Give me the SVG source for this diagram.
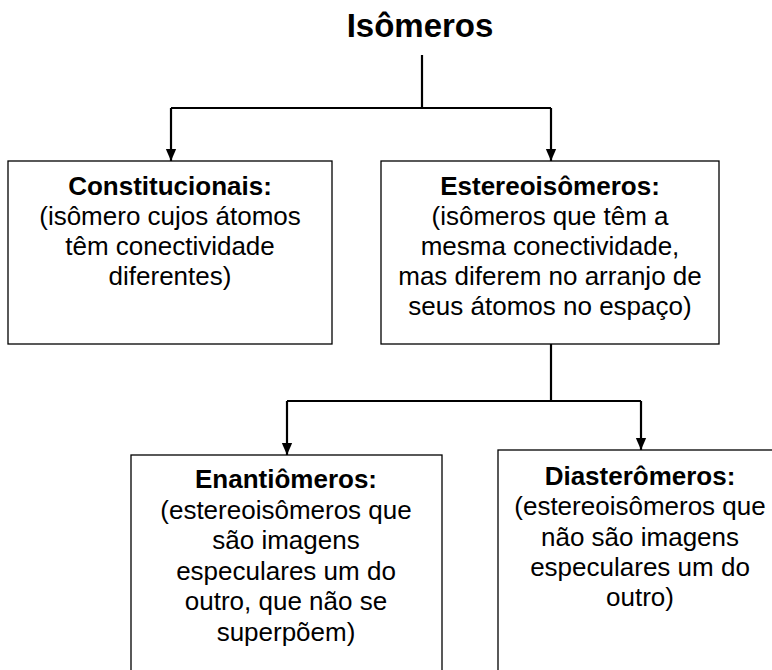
<svg xmlns="http://www.w3.org/2000/svg" width="772" height="670" viewBox="0 0 772 670">
<style>
text{font-family:"Liberation Sans",Arial,sans-serif;fill:#000;text-anchor:middle}
.t{font-size:33px;font-weight:bold}
.b{font-size:26px;font-weight:bold}
.n{font-size:26px}
.box{fill:#fff;stroke:#000;stroke-width:1.3}
.c{fill:none;stroke:#000;stroke-width:2.2}
</style>
<defs>
<marker id="ah" markerUnits="userSpaceOnUse" markerWidth="12" markerHeight="14" refX="14" refY="6" orient="auto" viewBox="0 0 14 12">
<path d="M0,0 L14,6 L0,12 z" fill="#000"/>
</marker>
</defs>
<rect width="772" height="670" fill="#fff"/>
<g id="title"><text class="t" x="420" y="37">Isômeros</text></g>
<g id="constitucionais">
<rect class="box" x="8" y="161" width="324" height="183"/>
<text class="b" x="170" y="195">Constitucionais:</text>
<text class="n" x="170" y="225">(isômero cujos átomos</text>
<text class="n" x="170" y="255">têm conectividade</text>
<text class="n" x="170" y="285">diferentes)</text>
</g>
<g id="estereoisomeros">
<rect class="box" x="381" y="161" width="338" height="183"/>
<text class="b" x="550" y="195">Estereoisômeros:</text>
<text class="n" x="550" y="225">(isômeros que têm a</text>
<text class="n" x="550" y="255">mesma conectividade,</text>
<text class="n" x="550" y="285">mas diferem no arranjo de</text>
<text class="n" x="550" y="315">seus átomos no espaço)</text>
</g>
<g id="enantiomeros">
<rect class="box" x="131" y="455" width="311" height="230"/>
<text class="b" x="286" y="488">Enantiômeros:</text>
<text class="n" x="286" y="519">(estereoisômeros que</text>
<text class="n" x="286" y="549">são imagens</text>
<text class="n" x="286" y="580">especulares um do</text>
<text class="n" x="286" y="610">outro, que não se</text>
<text class="n" x="286" y="641">superpõem)</text>
</g>
<g id="diasteromeros">
<rect class="box" x="498" y="450" width="300" height="235"/>
<text class="b" x="640" y="485">Diasterômeros:</text>
<text class="n" x="640" y="515">(estereoisômeros que</text>
<text class="n" x="640" y="546">não são imagens</text>
<text class="n" x="640" y="576">especulares um do</text>
<text class="n" x="640" y="606">outro)</text>
</g>
<g id="connectors">
<path class="c" d="M422,55 V108"/>
<path class="c" d="M171,108 H551"/>
<path class="c" d="M171,108 V161" marker-end="url(#ah)"/>
<path class="c" d="M551,108 V161" marker-end="url(#ah)"/>
<path class="c" d="M551,344 V401"/>
<path class="c" d="M287,401 H641"/>
<path class="c" d="M287,401 V455" marker-end="url(#ah)"/>
<path class="c" d="M641,401 V450" marker-end="url(#ah)"/>
</g>
</svg>
